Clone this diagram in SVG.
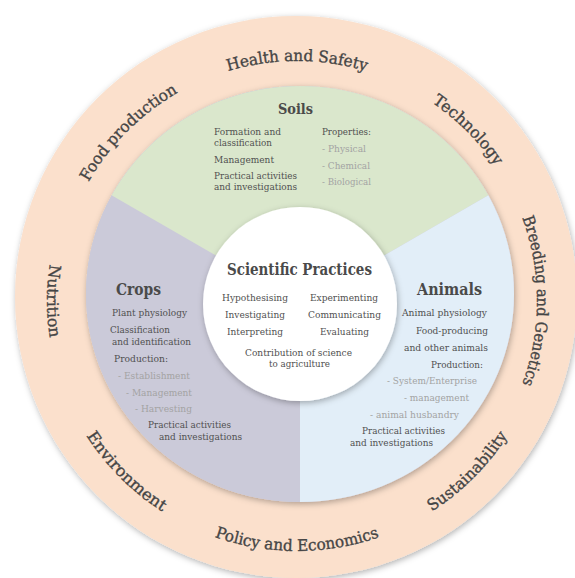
<svg xmlns="http://www.w3.org/2000/svg" width="575" height="578" viewBox="0 0 575 578">
<style>
.t{font-family:"DejaVu Serif","Liberation Serif",serif;font-size:9px;fill:#505050}
.g{fill:#a3a3a3}
.h{font-family:"DejaVu Serif","Liberation Serif",serif;font-weight:bold;fill:#4a4a4a}
.r{font-family:"DejaVu Serif","Liberation Serif",serif;font-size:16px;fill:#454545;stroke:#454545;stroke-width:0.35}
</style>
<defs>
<filter id="sh" x="-20%" y="-20%" width="140%" height="140%">
<feDropShadow dx="1" dy="2" stdDeviation="3" flood-color="#000" flood-opacity="0.3"/>
</filter>
<clipPath id="innerClip"><ellipse cx="300" cy="294" rx="214" ry="208"/></clipPath>
<path id="cw" d="M57 301 A240 240 0 0 1 537 301 A240 240 0 0 1 57 301"/>
<path id="ccw" d="M297 51 A250 250 0 0 0 297 551 A250 250 0 0 0 297 51"/>
</defs>
<rect width="575" height="578" fill="#ffffff"/>
<g id="ring">
<circle cx="296" cy="297" r="281" fill="#fbe0cc" filter="url(#sh)"/>
</g>
<g id="ring-labels">
<text class="r"><textPath href="#cw" startOffset="12.5%" text-anchor="middle" textLength="128" lengthAdjust="spacingAndGlyphs">Food production</textPath></text>
<text class="r"><textPath href="#cw" startOffset="25%" text-anchor="middle" textLength="140" lengthAdjust="spacingAndGlyphs">Health and Safety</textPath></text>
<text class="r"><textPath href="#cw" startOffset="37.5%" text-anchor="middle" textLength="90" lengthAdjust="spacingAndGlyphs">Technology</textPath></text>
<text class="r"><textPath href="#cw" startOffset="50%" text-anchor="middle" textLength="170" lengthAdjust="spacingAndGlyphs">Breeding and Genetics</textPath></text>
<text class="r"><textPath href="#ccw" startOffset="25%" text-anchor="middle" textLength="74" lengthAdjust="spacingAndGlyphs">Nutrition</textPath></text>
<text class="r"><textPath href="#ccw" startOffset="37.5%" text-anchor="middle" textLength="108" lengthAdjust="spacingAndGlyphs">Environment</textPath></text>
<text class="r"><textPath href="#ccw" startOffset="50%" text-anchor="middle" textLength="168" lengthAdjust="spacingAndGlyphs">Policy and Economics</textPath></text>
<text class="r"><textPath href="#ccw" startOffset="62.5%" text-anchor="middle" textLength="108" lengthAdjust="spacingAndGlyphs">Sustainability</textPath></text>
</g>
<ellipse cx="300" cy="294" rx="214" ry="208" fill="#cbcad9" filter="url(#sh)"/>
<g clip-path="url(#innerClip)">
<g id="crops-area"><rect x="80" y="80" width="230" height="430" fill="#cbcad9"/></g>
<g id="soils-area"><polygon points="300,304 40,154 40,0 560,0 560,154" fill="#dae7cc"/></g>
<g id="animals-area"><polygon points="300,304 560,154 600,154 600,600 300,600" fill="#e2eef8"/></g>
</g>
<g id="soils">
<text class="h" x="278" y="114" font-size="15" textLength="35" lengthAdjust="spacingAndGlyphs">Soils</text>
<text class="t" x="214" y="135" textLength="67" lengthAdjust="spacingAndGlyphs">Formation and</text>
<text class="t" x="214" y="146" textLength="58" lengthAdjust="spacingAndGlyphs">classification</text>
<text class="t" x="214" y="163" textLength="60" lengthAdjust="spacingAndGlyphs">Management</text>
<text class="t" x="214" y="179" textLength="83" lengthAdjust="spacingAndGlyphs">Practical activities</text>
<text class="t" x="214" y="190" textLength="83" lengthAdjust="spacingAndGlyphs">and investigations</text>
<text class="t" x="322" y="135" textLength="49" lengthAdjust="spacingAndGlyphs">Properties:</text>
<text class="t g" x="322" y="152" textLength="44" lengthAdjust="spacingAndGlyphs">- Physical</text>
<text class="t g" x="322" y="169" textLength="48" lengthAdjust="spacingAndGlyphs">- Chemical</text>
<text class="t g" x="322" y="185" textLength="49" lengthAdjust="spacingAndGlyphs">- Biological</text>
</g>
<g id="crops">
<text class="h" x="116" y="295" font-size="16" textLength="45" lengthAdjust="spacingAndGlyphs">Crops</text>
<text class="t" x="112" y="316" textLength="75" lengthAdjust="spacingAndGlyphs">Plant physiology</text>
<text class="t" x="110" y="333" textLength="60" lengthAdjust="spacingAndGlyphs">Classification</text>
<text class="t" x="112" y="345" textLength="79" lengthAdjust="spacingAndGlyphs">and identification</text>
<text class="t" x="114" y="362" textLength="54" lengthAdjust="spacingAndGlyphs">Production:</text>
<text class="t g" x="118" y="379" textLength="72" lengthAdjust="spacingAndGlyphs">- Establishment</text>
<text class="t g" x="126" y="396" textLength="66" lengthAdjust="spacingAndGlyphs">- Management</text>
<text class="t g" x="135" y="412" textLength="57" lengthAdjust="spacingAndGlyphs">- Harvesting</text>
<text class="t" x="148" y="428" textLength="83" lengthAdjust="spacingAndGlyphs">Practical activities</text>
<text class="t" x="159" y="440" textLength="83" lengthAdjust="spacingAndGlyphs">and investigations</text>
</g>
<g id="animals">
<text class="h" x="417" y="295" font-size="16" textLength="65" lengthAdjust="spacingAndGlyphs">Animals</text>
<text class="t" x="402" y="316" textLength="85" lengthAdjust="spacingAndGlyphs">Animal physiology</text>
<text class="t" x="416" y="334" textLength="72" lengthAdjust="spacingAndGlyphs">Food-producing</text>
<text class="t" x="404" y="351" textLength="84" lengthAdjust="spacingAndGlyphs">and other animals</text>
<text class="t" x="431" y="368" textLength="52" lengthAdjust="spacingAndGlyphs">Production:</text>
<text class="t g" x="387" y="384" textLength="90" lengthAdjust="spacingAndGlyphs">- System/Enterprise</text>
<text class="t g" x="404" y="401" textLength="65" lengthAdjust="spacingAndGlyphs">- management</text>
<text class="t g" x="370" y="418" textLength="89" lengthAdjust="spacingAndGlyphs">- animal husbandry</text>
<text class="t" x="362" y="434" textLength="83" lengthAdjust="spacingAndGlyphs">Practical activities</text>
<text class="t" x="350" y="446" textLength="83" lengthAdjust="spacingAndGlyphs">and investigations</text>
</g>
<g id="scientific-practices">
<circle cx="300" cy="304" r="97" fill="#ffffff" filter="url(#sh)"/>
<text class="h" x="227" y="275" font-size="16.5" textLength="145" lengthAdjust="spacingAndGlyphs">Scientific Practices</text>
<text class="t" x="222" y="301" textLength="66" lengthAdjust="spacingAndGlyphs">Hypothesising</text>
<text class="t" x="225" y="318" textLength="60" lengthAdjust="spacingAndGlyphs">Investigating</text>
<text class="t" x="227" y="335" textLength="56" lengthAdjust="spacingAndGlyphs">Interpreting</text>
<text class="t" x="310" y="301" textLength="68" lengthAdjust="spacingAndGlyphs">Experimenting</text>
<text class="t" x="308" y="318" textLength="73" lengthAdjust="spacingAndGlyphs">Communicating</text>
<text class="t" x="320" y="335" textLength="49" lengthAdjust="spacingAndGlyphs">Evaluating</text>
<text class="t" x="245" y="356" textLength="107" lengthAdjust="spacingAndGlyphs">Contribution of science</text>
<text class="t" x="269" y="367" textLength="61" lengthAdjust="spacingAndGlyphs">to agriculture</text>
</g>
</svg>
